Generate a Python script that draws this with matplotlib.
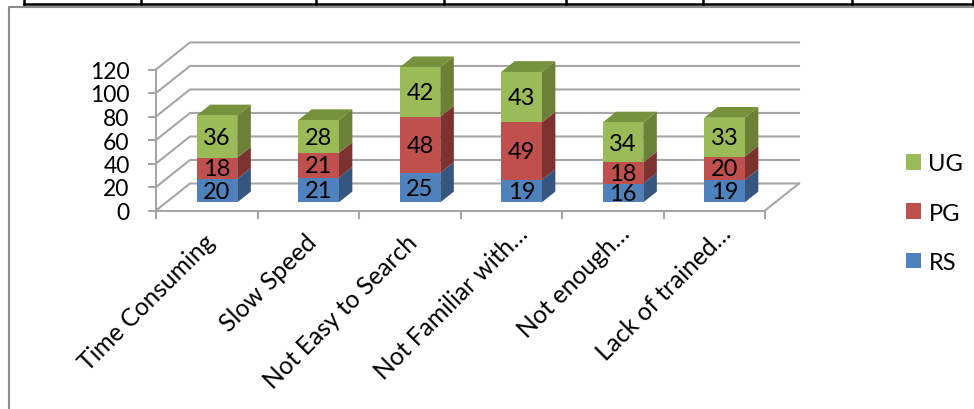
import matplotlib
matplotlib.use('Agg')
import matplotlib.pyplot as plt
from matplotlib.patches import Polygon, Rectangle
from matplotlib.transforms import ScaledTranslation

plt.rcParams['font.family'] = ['Lato', 'DejaVu Sans']

categories = ['Time Consuming', 'Slow Speed', 'Not Easy to Search',
              'Not Familiar with…', 'Not enough…', 'Lack of trained…']
rs = [20, 21, 25, 19, 16, 19]
pg = [18, 21, 48, 49, 18, 20]
ug = [36, 28, 42, 43, 34, 33]
y_ticks = [0, 20, 40, 60, 80, 100, 120]

series = [('RS', rs, '#4F81BD', '#34567F', '#3F6797'),
          ('PG', pg, '#C0504D', '#7D3230', '#99403D'),
          ('UG', ug, '#9BBB59', '#6B8236', '#76923C')]

W, H = 974, 410
GRID = '#A6A6A6'
DEPTH_X = 0.335   # shift of the back wall, in categories
DEPTH_Y = 23      # shift of the back wall, in value units


def proj(x, y, d):
    # d is depth: 0 front of the floor, 1 back wall
    return (x + d * DEPTH_X, y + d * DEPTH_Y)


fig = plt.figure(figsize=(W / 100, H / 100), dpi=100)

# frame and table remains around the chart
bg = fig.add_axes([0, 0, 1, 1])
bg.set_xlim(0, W)
bg.set_ylim(H, 0)
bg.axis('off')
bg.plot([9, 9, W], [H, 8, 8], color='#8C8C8C', lw=1.5, solid_capstyle='butt')
bg.plot([24, 973], [5, 5], color='black', lw=1.8)
for xt in [24, 141, 316, 444, 566, 703, 852, 973]:
    bg.plot([xt, xt], [0, 5], color='black', lw=1.8)

ax = fig.add_axes([156 / W, (H - 211.5) / H, (765 - 156) / W, 141 / H])
ax.set_xlim(0, 6)
ax.set_ylim(0, 120)
ax.patch.set_visible(False)
for s in ['top', 'right']:
    ax.spines[s].set_visible(False)
for s in ['left', 'bottom']:
    ax.spines[s].set_color(GRID)
    ax.spines[s].set_linewidth(1.5)

# back wall grid and side wall diagonals
for v in y_ticks:
    p0 = proj(0, v, 0)
    p1 = proj(0, v, 1)
    p2 = proj(6, v, 1)
    ax.plot([p0[0], p1[0], p2[0]], [p0[1], p1[1], p2[1]], color=GRID, lw=1.5,
            clip_on=False, zorder=1)
p0 = proj(6, 0, 0)
p1 = proj(6, 0, 1)
ax.plot([p0[0], p1[0]], [p0[1], p1[1]], color=GRID, lw=1.5, clip_on=False, zorder=1)

# stacked 3d bars
d0, d1 = 0.3, 0.7
for i in range(len(categories)):
    x0, x1 = i + 0.3, i + 0.7
    base = 0
    for j, (name, vals, front, side, top) in enumerate(series):
        v = vals[i]
        a = proj(x1, base, d0)
        b = proj(x1, base, d1)
        c = proj(x1, base + v, d1)
        d = proj(x1, base + v, d0)
        ax.add_patch(Polygon([a, b, c, d], closed=True, fc=side, ec='none',
                             clip_on=False, zorder=3))
        if j == len(series) - 1:
            e = proj(x0, base + v, d0)
            f = proj(x0, base + v, d1)
            ax.add_patch(Polygon([e, f, c, d], closed=True, fc=top, ec='none',
                                 clip_on=False, zorder=3))
        fx, fy = proj(x0, base, d0)
        gx, _ = proj(x1, base, d0)
        ax.add_patch(Rectangle((fx, fy), gx - fx, v, fc=front, ec='none',
                               clip_on=False, zorder=4))
        ax.text((fx + gx) / 2, fy + v / 2 - 0.5, str(v), ha='center', va='center',
                fontsize=17, color='black', zorder=5)
        base += v

ax.set_yticks(y_ticks)
ax.set_yticklabels([str(v) for v in y_ticks], fontsize=16.5)
ax.tick_params(axis='y', length=6, width=1.5, color=GRID, pad=13)
ax.set_xticks(range(7))
ax.set_xticklabels([])
ax.tick_params(axis='x', which='major', length=6, width=1.5, color=GRID)
ax.set_xticks([i + 0.5 for i in range(6)], minor=True)
ax.set_xticklabels(categories, minor=True, rotation=45, ha='right',
                   rotation_mode='anchor', fontsize=17.7)
ax.tick_params(axis='x', which='minor', length=0, pad=14)
# the truncated labels sit further up and right in the original
for lab in ax.get_xticklabels(minor=True):
    if lab.get_text().endswith('…'):
        shift = ScaledTranslation(5 / 100, 9 / 100, fig.dpi_scale_trans)
    else:
        shift = ScaledTranslation(-4 / 100, 0, fig.dpi_scale_trans)
    lab.set_transform(lab.get_transform() + shift)

handles = [Rectangle((0, 0), 1, 1, fc=s[2], ec='none') for s in reversed(series)]
fig.legend(handles, [s[0] for s in reversed(series)], loc='upper left',
           bbox_to_anchor=(885 / W, 1 - 133 / H), frameon=False, fontsize=17,
           handlelength=0.64, handleheight=0.64, handletextpad=0.3, labelspacing=1.2)

fig.savefig('out.png', dpi=100)
